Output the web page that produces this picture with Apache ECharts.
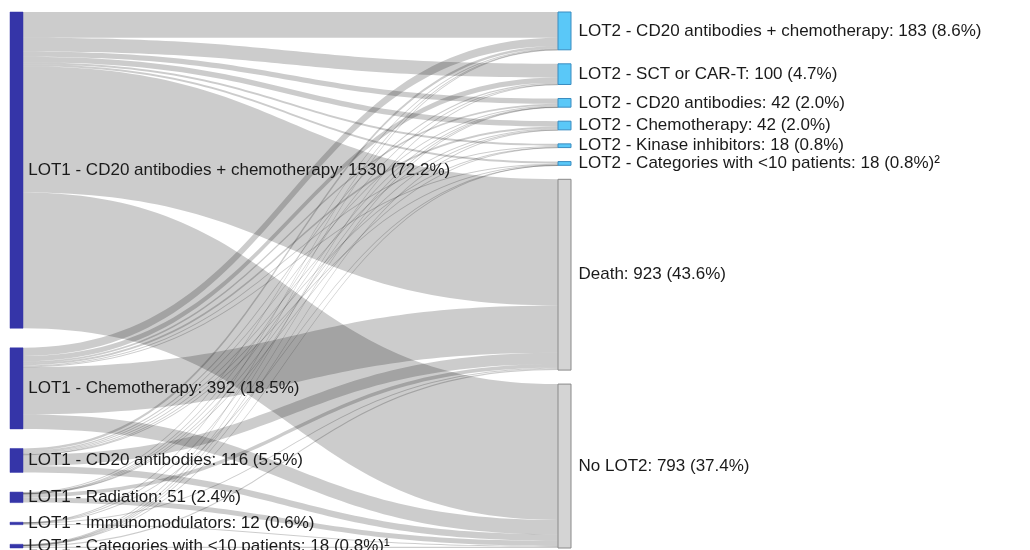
<!DOCTYPE html>
<html>
<head>
<meta charset="utf-8">
<script src="https://cdn.jsdelivr.net/npm/echarts@6/dist/echarts.min.js"></script>
<style>
  html, body { margin: 0; padding: 0; background: #fff; }
  #chart { width: 1030px; height: 550px; }
</style>
</head>
<body>
<div id="chart"></div>
<script>
// LOT1 (first line of therapy) nodes
const lot1Names = [
    'LOT1 - CD20 antibodies + chemotherapy',
    'LOT1 - Chemotherapy',
    'LOT1 - CD20 antibodies',
    'LOT1 - Radiation',
    'LOT1 - Immunomodulators',
    'LOT1 - Categories with <10 patients'
];
const lot1Values = [1530, 392, 116, 51, 12, 18];
const lot1Pct = ['72.2%', '18.5%', '5.5%', '2.4%', '0.6%', '0.8%'];
const lot1Notes = ['', '', '', '', '', '¹'];

// LOT2 / outcome nodes
const lot2Names = [
    'LOT2 - CD20 antibodies + chemotherapy',
    'LOT2 - SCT or CAR-T',
    'LOT2 - CD20 antibodies',
    'LOT2 - Chemotherapy',
    'LOT2 - Kinase inhibitors',
    'LOT2 - Categories with <10 patients',
    'Death',
    'No LOT2'
];
const lot2Values = [183, 100, 42, 42, 18, 18, 923, 793];
const lot2Pct = ['8.6%', '4.7%', '2.0%', '2.0%', '0.8%', '0.8%', '43.6%', '37.4%'];
const lot2Notes = ['', '', '', '', '', '²', '', ''];

// flows from each LOT1 node, in lot2Names order
const fromCd20Chemo   = [125, 66, 26, 26, 10, 10, 610, 657];
const fromChemo       = [40, 26, 8, 10, 5, 4, 229, 70];
const fromCd20        = [12, 5, 5, 4, 2, 2, 55, 31];
const fromRadiation   = [3, 2, 1, 1, 1, 0, 18, 25];
const fromImmuno      = [1, 0, 1, 0, 0, 1, 5, 4];
const fromOther       = [2, 1, 1, 1, 0, 1, 6, 6];
const flows = [fromCd20Chemo, fromChemo, fromCd20, fromRadiation, fromImmuno, fromOther];

const COLORS = {
    lot1: '#3535a8',
    lot2: '#5ac8f8',
    lot2Border: '#3a8cc0',
    outcome: '#d4d4d4',
    outcomeBorder: '#8a8a8a'
};

const LAYOUT = { top: 12, bottom: 2, height: 550, gap: 14 };

function sum(arr) {
    return arr.reduce((a, b) => a + b, 0);
}

function labelText(name, value, pct, note) {
    return `${name}: ${value} (${pct})${note}`;
}

// spread the LOT1 column over the full height (justify), same value scale as the sankey layout
function justifyColumn(values, otherValues) {
    const h = LAYOUT.height - LAYOUT.top - LAYOUT.bottom;
    const ky = Math.min(
        (h - (values.length - 1) * LAYOUT.gap) / sum(values),
        (h - (otherValues.length - 1) * LAYOUT.gap) / sum(otherValues)
    );
    const gap = (h - sum(values) * ky) / (values.length - 1);
    const out = [];
    let y = 0;
    values.forEach(v => {
        out.push(y / h);
        y += v * ky + gap;
    });
    return out;
}

const lot1Sums = flows.map(sum);
const lot1LocalY = justifyColumn(lot1Sums, lot2Values);

const nodes = [];
lot1Names.forEach((name, i) => {
    nodes.push({
        name: name,
        depth: 0,
        localY: lot1LocalY[i],
        itemStyle: { color: COLORS.lot1, borderColor: COLORS.lot1, borderWidth: 0.5 },
        label: { formatter: labelText(name, lot1Values[i], lot1Pct[i], lot1Notes[i]), distance: 5 }
    });
});
lot2Names.forEach((name, i) => {
    const isOutcome = i >= 6;
    nodes.push({
        name: name,
        depth: 1,
        itemStyle: {
            color: isOutcome ? COLORS.outcome : COLORS.lot2,
            borderColor: isOutcome ? COLORS.outcomeBorder : COLORS.lot2Border,
            borderWidth: 1
        },
        label: { formatter: labelText(name, lot2Values[i], lot2Pct[i], lot2Notes[i]), distance: 7 }
    });
});

const links = [];
flows.forEach((row, i) => {
    row.forEach((v, j) => {
        if (v > 0) {
            links.push({ source: lot1Names[i], target: lot2Names[j], value: v });
        }
    });
});

const chart = echarts.init(document.getElementById('chart'), null, { renderer: 'canvas' });
chart.setOption({
    backgroundColor: '#ffffff',
    animation: false,
    series: [{
        type: 'sankey',
        left: 10,
        right: 459,
        top: LAYOUT.top,
        bottom: LAYOUT.bottom,
        nodeWidth: 13,
        nodeGap: LAYOUT.gap,
        layoutIterations: 0,
        draggable: false,
        emphasis: { disabled: true },
        data: nodes,
        links: links,
        label: {
            show: true,
            position: 'right',
            color: '#1a1a1a',
            fontFamily: '"Liberation Sans", Arial, sans-serif',
            fontSize: 17
        },
        lineStyle: {
            color: '#000000',
            opacity: 0.2,
            curveness: 0.5
        }
    }]
});
</script>
</body>
</html>
